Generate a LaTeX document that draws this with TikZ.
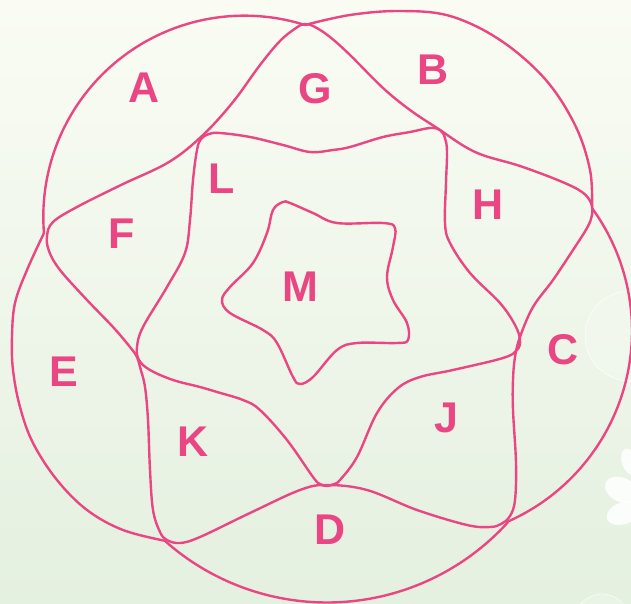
\documentclass[tikz,border=0pt]{standalone}
\usepackage{fontspec}
\setmainfont{Liberation Sans}
\definecolor{linepink}{RGB}{234,70,132}
\definecolor{bgtop}{RGB}{250,252,244}
\definecolor{bgbot}{RGB}{228,240,224}
\begin{document}
\begin{tikzpicture}[x=1pt,y=-1pt,
  edge/.style={draw=linepink, line width=2.4pt, line join=round, line cap=round},
  lbl/.style={text=linepink, font=\fontsize{43}{43}\selectfont\bfseries, inner sep=0pt},
  petal/.style={fill=white, opacity=0.85},
  bubble/.style={draw=white, fill=white, fill opacity=0.2, draw opacity=0.7, line width=0.8pt}]
\useasboundingbox (0,0) rectangle (631,604);
\shade[top color=bgtop, bottom color=bgbot] (0,0) rectangle (631,604);
% background decorations
\path[bubble] (630,336) circle (45);
\path[bubble] (602,622) circle (28);
\fill[petal, rotate around={-25:(622,490)}] (622,490) ellipse (18 and 12);
\fill[petal, rotate around={20:(624,513)}] (624,513) ellipse (18 and 11);
\fill[petal, rotate around={-70:(630,462)}] (630,462) ellipse (14 and 8);
% junction points
\coordinate (T) at (305,25);
\coordinate (LJ) at (44,233);
\coordinate (RJ) at (592,208);
\coordinate (BR) at (507,522);
\coordinate (BL) at (166,541);
% outer arcs
\draw[edge] plot[domain=175.4:287.5, samples=60, smooth] ({244.4+201.1*cos(\x)},{216.75+201.1*sin(\x)});
\draw[edge] plot[smooth, tension=0.6] coordinates {(T) (350,15) (400,11) (450,16) (500,40) (545,79) (575,125) (590,170) (RJ)};
\draw[edge] plot[domain=-36.1:66.4, samples=60, smooth] ({423.5+208.5*cos(\x)},{330.9+208.5*sin(\x)});
\draw[edge] plot[domain=42.2:131.4, samples=60, smooth] ({327+244*cos(\x)},{358.5+244*sin(\x)});
\draw[edge] plot[smooth, tension=0.6] coordinates {(BL) (123,530) (87,510) (57,480) (33,443) (20,407) (13,370) (12,337) (15,303) (27,270) (LJ)};
% star curve
\draw[edge] plot[smooth cycle, tension=0.6] coordinates {
 (296,28) (305,24) (315,27) (330,37) (350,55) (383,88) (410,110) (437,128)
 (475,152) (520,166) (560,181) (582,192) (591,203) (592,215) (587,228) (573,250)
 (553,280) (533,307) (520,337) (515,357) (513,380) (513,410) (516,463) (515,500)
 (510,516) (501,524) (490,527) (467,525) (417,510) (367,490) (327,485) (300,490)
 (250,513) (200,537) (180,543) (167,540) (160,532) (153,510) (150,470) (148,420)
 (145,387) (140,367) (137,357) (130,347) (113,327) (87,300) (60,270) (49,251)
 (47,236) (53,222) (77,207) (121,185) (169,162) (203,135) (233,102) (260,65) (280,41)};
% L ring
\draw[edge] plot[smooth cycle, tension=0.6] coordinates {
 (197,150) (201,139) (209,134) (220,133) (250,137) (283,145) (310,152) (333,150)
 (350,147) (383,137) (410,132) (430,128) (440,130) (445,138) (447,152) (446,183)
 (445,223) (450,243) (470,273) (500,303) (515,325) (520,340) (517,350) (503,358)
 (453,370) (420,377) (398,388) (377,413) (357,457) (340,480) (334,484) (327,486)
 (320,484) (313,477) (287,440) (260,410) (243,400) (217,392) (200,387) (173,380)
 (150,370) (139,360) (137,347) (143,327) (167,287) (185,253) (190,220) (193,180)};
% M star
\draw[edge] plot[smooth cycle, tension=0.6] coordinates {
 (283,202) (290,203) (313,213) (337,223) (383,223) (395,228) (393,247) (387,277)
 (393,300) (407,323) (408,340) (397,343) (357,343) (337,350) (313,377) (300,384)
 (293,377) (277,343) (263,330) (230,313) (222,300) (230,287) (253,263) (267,233)
 (273,210)};
% labels
\node[lbl] (lA) at (144,88) {A};
\node[lbl] (lG) at (315,89) {G};
\node[lbl] (lB) at (433,70) {B};
\node[lbl] (lL) at (222,179) {L};
\node[lbl] (lH) at (488,205) {H};
\node[lbl] (lF) at (122,234) {F};
\node[lbl] (lM) at (300,287) {M};
\node[lbl] (lC) at (563,350) {C};
\node[lbl] (lE) at (64,372) {E};
\node[lbl] (lJ) at (446,418) {J};
\node[lbl] (lK) at (193,442) {K};
\node[lbl] (lD) at (330,530) {D};
\end{tikzpicture}
\end{document}
